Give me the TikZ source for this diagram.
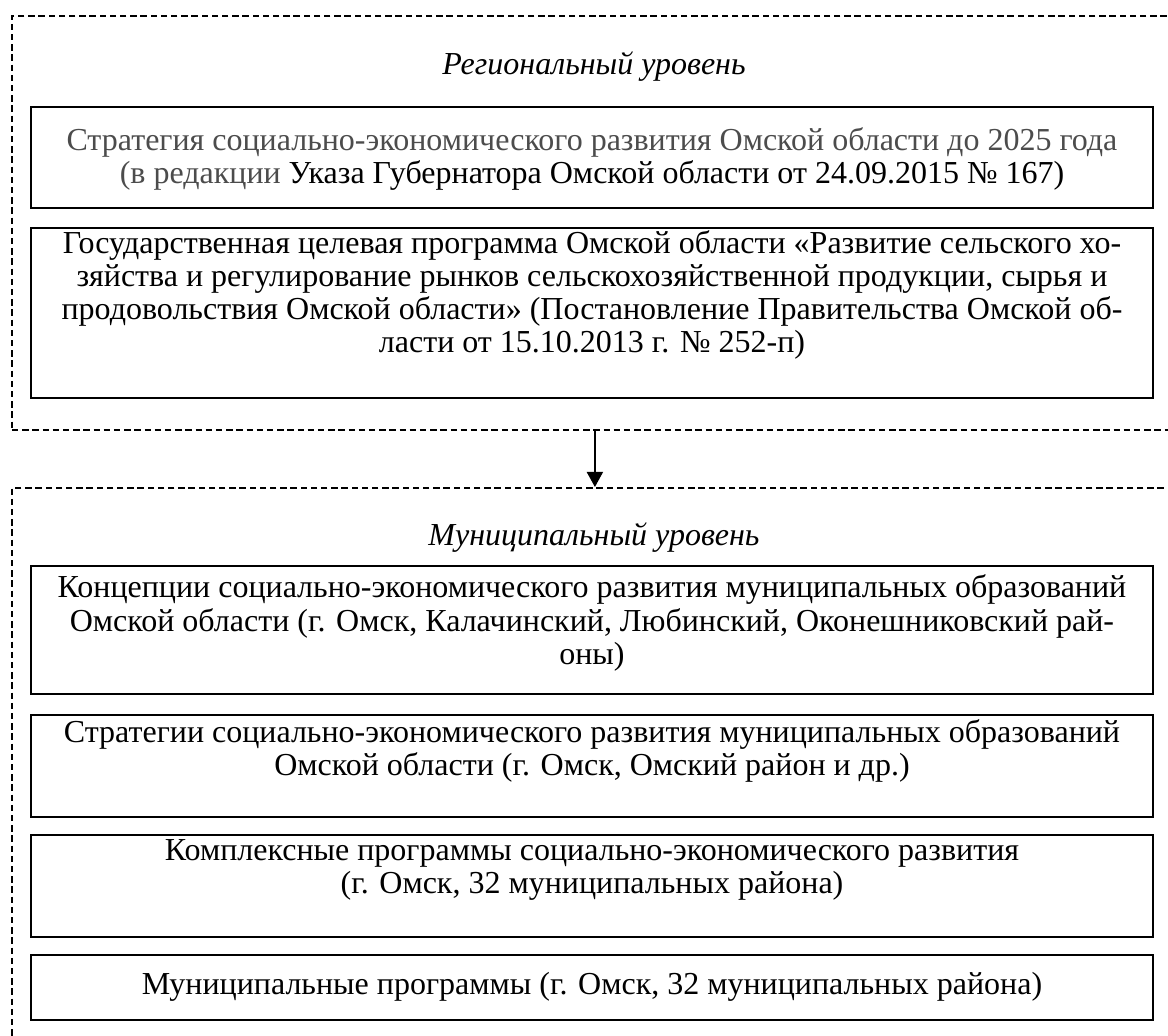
\documentclass[tikz,border=0pt]{standalone}
\usepackage{fontspec}
\setmainfont{Liberation Serif}
\usetikzlibrary{arrows.meta}
\begin{document}
\begin{tikzpicture}[x=0.5pt, y=-0.5pt, >={Triangle[width=8pt,length=7.5pt]},
  level/.style={draw, line width=0.9pt, dash pattern=on 3.2pt off 1.9pt, inner sep=0pt, minimum width=583pt, anchor=north west},
  docbox/.style={draw, line width=1pt, inner sep=0pt, minimum width=561pt},
  doctext/.style={align=center, inner sep=0pt, font=\fontsize{16}{16.6}\selectfont},
  levelname/.style={inner sep=0pt, font=\fontsize{16}{16.6}\selectfont\itshape}]
  \useasboundingbox (0,0) rectangle (1168,1036);
  \clip (0,0) rectangle (1168,1036);
  % levels
  \node[level, minimum height=207pt] (reg) at (11,15) {};
  \node[level, minimum height=282pt] (mun) at (11,487) {};
  \draw[->, line width=0.9pt] (reg.south) -- (mun.north);
  \node[levelname] (regname) at (594,67) {Региональный уровень};
  \node[levelname] (munname) at (594,538) {Муниципальный уровень};
  % regional documents
  \node[docbox, minimum height=50.5pt] (strat) at (592,157.5) {};
  \node[doctext] (strattext) at (592,159) {\textcolor{black!70}{Стратегия социально-экономического развития Омской области до 2025 года}\\
    \textcolor{black!70}{(в редакции} Указа Губернатора Омской области от 24.09.2015 № 167)};
  \node[docbox, minimum height=85pt] (gp) at (592,313) {};
  \node[doctext] (gptext) at (592,295) {Государственная целевая программа Омской области «Развитие сельского хо-\\
    зяйства и регулирование рынков сельскохозяйственной продукции, сырья и\\
    продовольствия Омской области» (Постановление Правительства Омской об-\\
    ласти от 15.10.2013 г. № 252-п)};
  % municipal documents
  \node[docbox, minimum height=64pt] (conc) at (592,630) {};
  \node[doctext] (conctext) at (592,623) {Концепции социально-экономического развития муниципальных образований\\
    Омской области (г. Омск, Калачинский, Любинский, Оконешниковский рай-\\
    оны)};
  \node[docbox, minimum height=51pt] (mstrat) at (592,766) {};
  \node[doctext] (mstrattext) at (592,751) {Стратегии социально-экономического развития муниципальных образований\\
    Омской области (г. Омск, Омский район и др.)};
  \node[docbox, minimum height=51pt] (kompl) at (592,886) {};
  \node[doctext] (kompltext) at (592,870) {Комплексные программы социально-экономического развития\\
    (г. Омск, 32 муниципальных района)};
  \node[docbox, minimum height=32.5pt] (mprog) at (592,987.5) {};
  \node[doctext] (mprogtext) at (592,987) {Муниципальные программы (г. Омск, 32 муниципальных района)};
\end{tikzpicture}
\end{document}
